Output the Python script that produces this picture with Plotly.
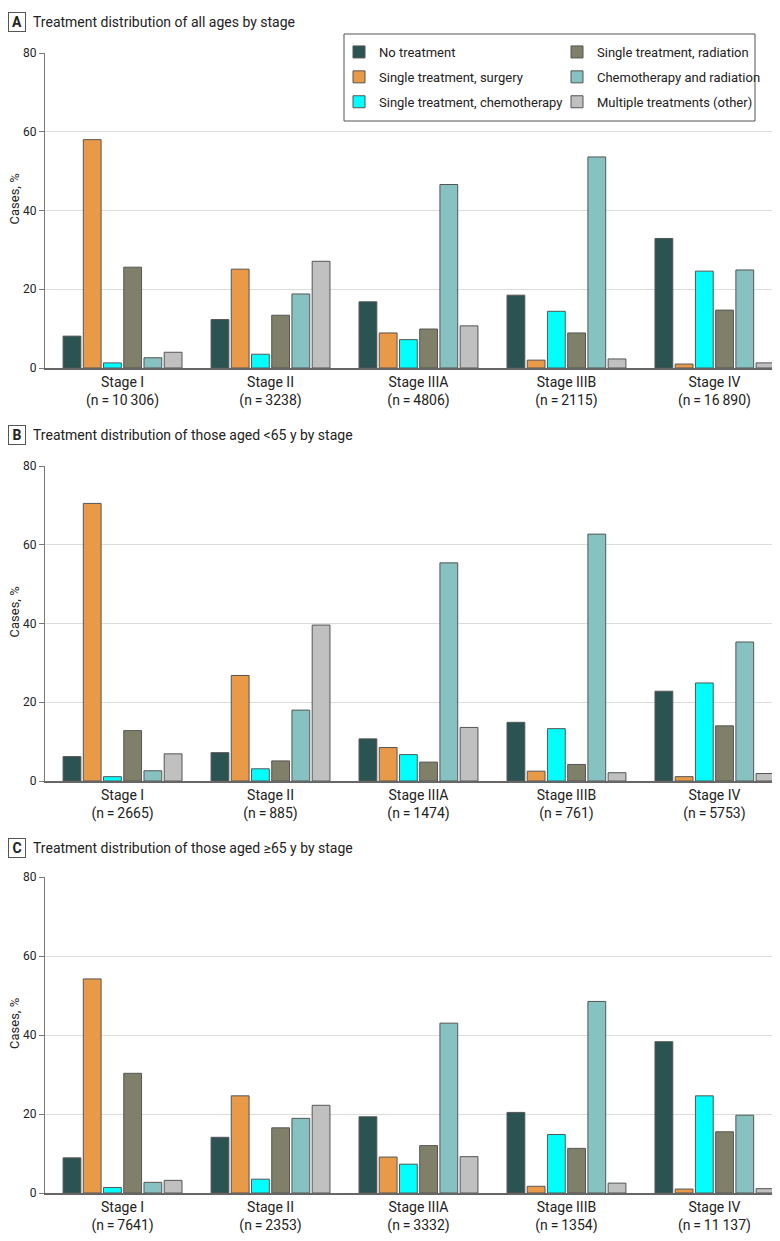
import plotly.graph_objects as go
from plotly.subplots import make_subplots

# --- data (percent of cases) ---
stages = ["Stage I", "Stage II", "Stage IIIA", "Stage IIIB", "Stage IV"]
n_all = ["10\u2009306", "3238", "4806", "2115", "16\u2009890"]
n_young = ["2665", "885", "1474", "761", "5753"]
n_old = ["7641", "2353", "3332", "1354", "11\u2009137"]

treatments = [
    "No treatment",
    "Single treatment, surgery",
    "Single treatment, chemotherapy",
    "Single treatment, radiation",
    "Chemotherapy and radiation",
    "Multiple treatments (other)",
]
colors = ["#2b5352", "#e89a48", "#00ffff", "#80806a", "#86c2c1", "#c0c0c0"]

# rows = treatments, columns = stages
all_ages = [
    [8.1, 12.3, 16.8, 18.5, 32.9],
    [58.0, 25.1, 8.9, 2.0, 1.0],
    [1.3, 3.5, 7.2, 14.4, 24.6],
    [25.6, 13.4, 9.9, 8.9, 14.7],
    [2.6, 18.8, 46.6, 53.6, 24.9],
    [4.0, 27.1, 10.7, 2.3, 1.3],
]
under_65 = [
    [6.2, 7.2, 10.7, 14.9, 22.8],
    [70.5, 26.8, 8.5, 2.5, 1.1],
    [1.1, 3.1, 6.7, 13.3, 24.9],
    [12.8, 5.1, 4.8, 4.2, 14.0],
    [2.6, 18.0, 55.4, 62.7, 35.3],
    [6.9, 39.6, 13.6, 2.1, 1.9],
]
over_65 = [
    [8.9, 14.1, 19.3, 20.4, 38.3],
    [54.2, 24.6, 9.1, 1.7, 1.0],
    [1.4, 3.5, 7.3, 14.8, 24.6],
    [30.3, 16.5, 12.0, 11.3, 15.5],
    [2.7, 18.9, 43.0, 48.5, 19.7],
    [3.2, 22.2, 9.2, 2.5, 1.1],
]

panels = [
    ("A", "Treatment distribution of all ages by stage", all_ages, n_all),
    ("B", "Treatment distribution of those aged <65 y by stage", under_65, n_young),
    ("C", "Treatment distribution of those aged \u226565 y by stage", over_65, n_old),
]

# the page body has an 8 px margin, so lay the figure out in page pixels minus 8
OFF = 8
W, H = 780 - OFF, 1241 - OFF
FONT = "Roboto, sans-serif"


def px_x(p):
    return (p - OFF) / W


def px_y(p):
    return 1 - (p - OFF) / H


# page-pixel positions of the plot areas (top at 80, bottom at 0)
plot_px = [(53, 368), (466, 781), (877, 1193)]
title_px = [22, 435, 848]
x0_px, x1_px = 45, 776

fig = make_subplots(rows=3, cols=1)

for r, (letter, title, vals, ns) in enumerate(panels, start=1):
    for i, name in enumerate(treatments):
        fig.add_trace(
            go.Bar(
                x=stages, y=vals[i], name=name,
                marker=dict(color=colors[i], line=dict(color="#555555", width=1)),
                showlegend=(r == 1),
                legend="legend" if i < 3 else "legend2",
                legendgroup=name,
            ),
            row=r, col=1,
        )
    top, bot = plot_px[r - 1]
    fig.update_yaxes(
        domain=[px_y(bot), px_y(top)], range=[0, 80], automargin=False,
        tickvals=[0, 20, 40, 60, 80], showgrid=True, gridcolor="#dcdcdc", gridwidth=1,
        showline=True, linecolor="#7a7a7a", linewidth=1,
        ticks="outside", ticklen=5, tickcolor="#7a7a7a",
        tickfont=dict(size=12, color="#222"), zeroline=False,
        row=r, col=1,
    )
    fig.update_xaxes(
        domain=[px_x(x0_px), px_x(x1_px)], range=[-0.524, 4.416], automargin=False,
        tickmode="array", tickvals=stages,
        ticktext=[f"{s}<br>(n\u2009=\u2009{n})" for s, n in zip(stages, ns)],
        tickfont=dict(size=14, color="#222"), ticklabelstandoff=0,
        showline=True, linecolor="#666666", linewidth=1.5, ticks="",
        showgrid=False,
        row=r, col=1,
    )
    # y axis title
    fig.add_annotation(
        xref="paper", yref="paper", x=px_x(14), y=px_y((top + bot) / 2 - 11),
        xanchor="center", yanchor="middle", textangle=-90,
        text="Cases, %", showarrow=False, font=dict(size=13, color="#222"),
    )
    ty = px_y(title_px[r - 1])
    fig.add_annotation(
        xref="paper", yref="paper", x=0, y=ty, xanchor="left", yanchor="middle",
        text=f"<b>{letter}</b>", showarrow=False, font=dict(size=14, color="#222"),
        bordercolor="#555555", borderwidth=1, borderpad=1, width=14, height=16,
    )
    fig.add_annotation(
        xref="paper", yref="paper", x=px_x(31), y=ty, xanchor="left", yanchor="middle",
        text=title, showarrow=False, font=dict(size=14, color="#222"),
    )

# legend frame
fig.add_shape(
    type="rect", xref="paper", yref="paper",
    x0=px_x(344), x1=px_x(755), y0=px_y(121), y1=px_y(34),
    line=dict(color="#555555", width=1), fillcolor="white", layer="above",
)

leg = dict(
    bgcolor="rgba(0,0,0,0)", borderwidth=0, font=dict(size=13, color="#222"),
    xanchor="left", yanchor="top", tracegroupgap=5, itemclick=False,
)
fig.update_layout(
    width=W, height=H,
    margin=dict(l=0, r=0, t=0, b=0, autoexpand=False),
    paper_bgcolor="white", plot_bgcolor="white",
    font=dict(family=FONT, size=14, color="#222"),
    barmode="group", bargap=0.18, bargroupgap=0.12,
    legend=dict(leg, x=px_x(339), y=px_y(37)),
    legend2=dict(leg, x=px_x(557), y=px_y(37)),
)

fig.write_html("out.html")
